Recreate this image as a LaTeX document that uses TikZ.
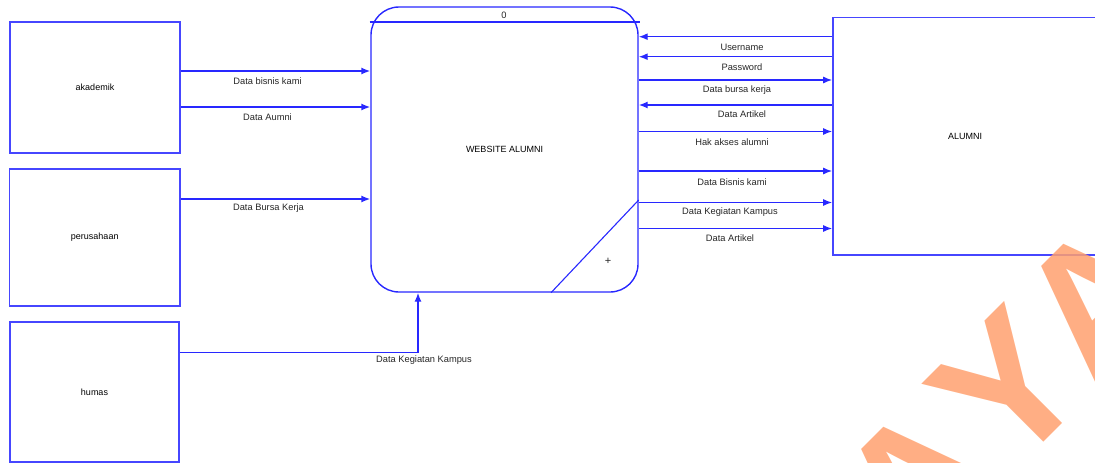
\documentclass[tikz,border=0pt]{standalone}
\usepackage{fontspec}
\setmainfont{Liberation Sans}
\usetikzlibrary{arrows.meta}
\definecolor{dfd}{RGB}{40,40,255}
\definecolor{boxcol}{RGB}{70,70,255}
\definecolor{wmark}{RGB}{255,160,110}
\tikzset{
  entity/.style={draw=boxcol, line width=1.6pt, rectangle, inner sep=0pt, font=\fontsize{9}{11}\selectfont},
  proc/.style={draw=dfd, line width=1.4pt, rectangle, rounded corners=28pt, inner sep=0pt, font=\fontsize{9}{11}\selectfont},
  flow/.style={draw=dfd, line width=1.4pt, -{Latex[length=9pt,width=7pt]}},
  plainline/.style={draw=dfd, line width=1.3pt},
  lbl/.style={inner sep=0pt, font=\fontsize{9.3}{11}\selectfont, text=black!85},
  wm/.style={inner sep=0pt, rotate=45, text=wmark, text opacity=0.85, font=\fontsize{185}{200}\selectfont\bfseries}
}
\begin{document}
\begin{tikzpicture}[x=1pt,y=-1pt]
\useasboundingbox (0,0) rectangle (1095,463);
% entities
\node[entity, minimum width=170pt, minimum height=131pt] (akademik) at (95,87.5) {akademik};
\node[entity, minimum width=170.5pt, minimum height=137pt] (perusahaan) at (94.75,237.5) {perusahaan};
\node[entity, minimum width=169pt, minimum height=140pt] (humas) at (94.5,392) {humas};
\node[entity, minimum width=264pt, minimum height=237.5pt] (alumni) at (965,136.25) {ALUMNI};
% process
\node[proc, minimum width=267pt, minimum height=285pt] (proc) at (504.5,149.5) {WEBSITE ALUMNI};
\draw[plainline] (369.5,22) -- (640,22);
\node[lbl] (pid) at (504,15) {0};
\draw[plainline, line width=1.1pt] (proc.south -| 551,0) -- (proc.east |- 0,200);
\node[lbl, font=\fontsize{11}{11}\selectfont] (plus) at (608,261) {+};
% left flows
\coordinate (l1) at (0,71);
\coordinate (l2) at (0,107);
\coordinate (l3) at (0,199);
\draw[flow] (akademik.east |- l1) -- (proc.west |- l1);
\draw[flow] (akademik.east |- l2) -- (proc.west |- l2);
\draw[flow] (perusahaan.east |- l3) -- (proc.west |- l3);
\node[lbl] (t1) at (267.5,81) {Data bisnis kami};
\node[lbl] (t2) at (267.5,117.5) {Data Aumni};
\node[lbl] (t3) at (268.5,208.5) {Data Bursa Kerja};
% humas flow
\coordinate (hk) at (418,352.7);
\draw[flow] (humas.east |- hk) -| (proc.south -| hk);
\node[lbl] (t4) at (424,360.5) {Data Kegiatan Kampus};
% right flows
\coordinate (r1) at (0,36.7);
\coordinate (r2) at (0,56.7);
\coordinate (r3) at (0,80);
\coordinate (r4) at (0,105);
\coordinate (r5) at (0,131.5);
\coordinate (r6) at (0,171);
\coordinate (r7) at (0,202.5);
\coordinate (r8) at (0,228.5);
\draw[flow] (alumni.west |- r1) -- (proc.east |- r1);
\draw[flow] (alumni.west |- r2) -- (proc.east |- r2);
\draw[flow] (proc.east |- r3) -- (alumni.west |- r3);
\draw[flow] (alumni.west |- r4) -- (proc.east |- r4);
\draw[flow] (proc.east |- r5) -- (alumni.west |- r5);
\draw[flow] (proc.east |- r6) -- (alumni.west |- r6);
\draw[flow] (proc.east |- r7) -- (alumni.west |- r7);
\draw[flow] (proc.east |- r8) -- (alumni.west |- r8);
\node[lbl] (u1) at (742,47) {Username};
\node[lbl] (u2) at (742,67) {Password};
\node[lbl] (u3) at (737,90.5) {Data bursa kerja};
\node[lbl] (u4) at (742,114.5) {Data Artikel};
\node[lbl] (u5) at (732,142) {Hak akses alumni};
\node[lbl] (u6) at (732,182) {Data Bisnis kami};
\node[lbl] (u7) at (730,212) {Data Kegiatan Kampus};
\node[lbl] (u8) at (730,238) {Data Artikel};
% watermark
\node[wm] (w1) at (918,483) {A};
\node[wm] (w2) at (1008,388) {Y};
\node[wm] (w3) at (1098,300) {A};
\end{tikzpicture}
\end{document}
